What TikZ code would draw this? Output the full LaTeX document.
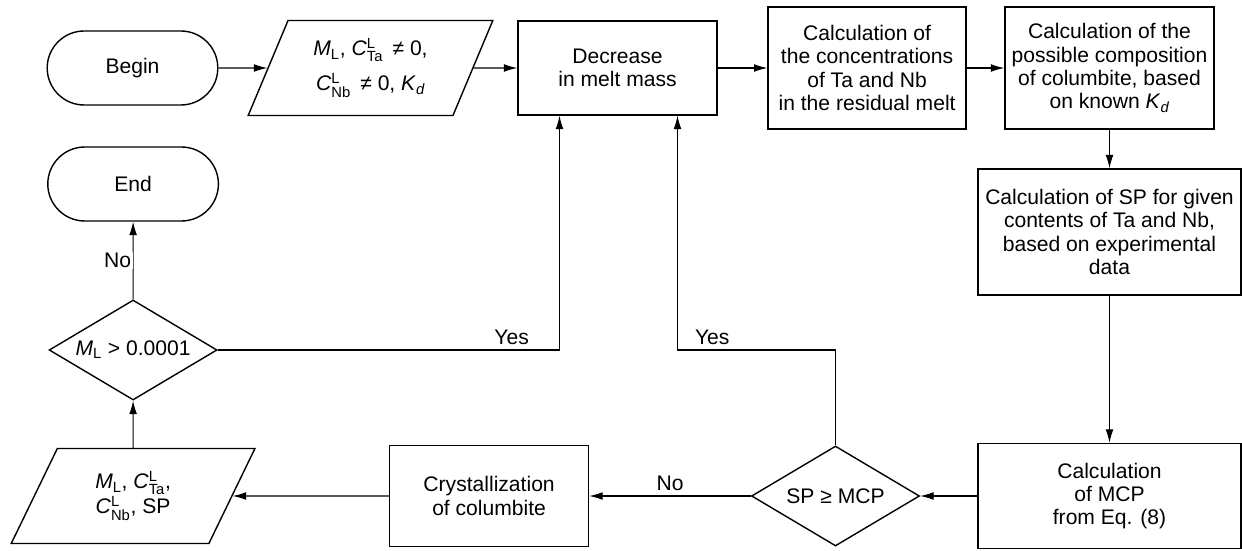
\documentclass[tikz,border=0pt]{standalone}
\usepackage{fontspec}
\usepackage{amsmath}
\setmainfont{Liberation Sans}
\usetikzlibrary{shapes,arrows.meta,positioning}

\newcommand{\conc}[1]{\textit{C}$^{\text{L}}_{\text{#1}}$}
\newcommand{\mliq}{\textit{M}$_{\text{L}}$}
\newcommand{\kd}{\textit{K}$_{\textit{d}}$}

\begin{document}
\begin{tikzpicture}[
				node distance = 6cm,
				auto,
				every node/.style={
					font=\fontsize{15}{16.6}\selectfont
					},
				terminal/.style={
					rounded rectangle,
					draw,
					line width=1pt,
					minimum width=4.5cm,
					minimum height=1.85cm
					},
				data/.style={
					trapezium,
					trapezium left angle=65,
					trapezium right angle=115,
					trapezium stretches=true,
					draw,
					line width=1pt,
					align=center,
					inner sep=0pt,
					minimum width=6.125cm,
					minimum height=2.375cm
					},
				decision/.style={
					diamond,
					draw,
					line width=1pt,
					aspect=1.68,
					inner sep=0pt,
					minimum width=4.2cm,
					minimum height=2.5cm
					},
				block/.style={
					rectangle,
					draw,
					line width=1pt,
					align=center,
					inner sep=2pt
					},
				line/.style={
					draw,
					line width=0.75pt,
					-{Latex[length=9.5pt,width=5.5pt]}
					}]
			    \useasboundingbox (0,0) rectangle (31.05,-13.775);
			    % Place nodes
			    \node [terminal] (begin) at (3.3125,-1.7) {Begin};
			    \node [data, right of=begin, node distance=5.95cm] (input) {\mliq, \conc{Ta}\, ≠ 0,\\[7pt]\conc{Nb}\, ≠ 0, \kd};
			    \node [block, right of=input, node distance=6.175cm, minimum width=4.975cm, minimum height=2.35cm] (decrease) {Decrease\\in melt mass};
			    \node [block, right of=decrease, node distance=6.24cm, minimum width=4.95cm, minimum height=3.05cm] (conc) {Calculation of\\the concentrations\\of Ta and Nb\\in the residual melt};
			    \node [block, right of=conc, node distance=6.06cm, minimum width=5.225cm, minimum height=3.05cm] (comp) {Calculation of the\\possible composition\\of columbite, based\\on known \kd};
			    \node [block, below of=comp, node distance=4.1cm, minimum width=6.575cm, minimum height=3.15cm] (spcalc) {Calculation of SP for given\\contents of Ta and Nb,\\based on experimental\\data};
			    \node [block, below of=spcalc, node distance=6.6cm, minimum width=6.575cm, minimum height=2.625cm] (mcp) {Calculation\\of MCP\\from Eq. (8)};
			    \node [decision, left of=mcp, node distance=6.85cm] (check) {SP ≥ MCP};
			    \node [block, left of=check, node distance=8.66cm, minimum width=4.975cm, minimum height=2.525cm] (crystal) {Crystallization\\of columbite};
			    \node [data, left of=crystal, node distance=8.9cm] (output) {\mliq, \conc{Ta},\\\conc{Nb}, SP};
			    \node [decision, above of=output, node distance=3.65cm] (limit) {\mliq{} > 0.0001};
			    \node [terminal, above of=limit, node distance=4.15cm] (end) {End};

			    \coordinate (yesleft) at ([xshift=-1.45cm]decrease.south);
			    \coordinate (yesright) at ([xshift=1.5cm]decrease.south);

			    % Draw edges
			    \path [line] (begin) -- (input);
			    \path [line] (input) -- (decrease);
			    \path [line] (decrease) -- (conc);
			    \path [line] (conc) -- (comp);
			    \path [line] (comp) -- (spcalc);
			    \path [line] (spcalc) -- (mcp);
			    \path [line] (mcp) -- (check);
			    \path [line] (check) -- node [above] {No} (crystal);
			    \path [line] (crystal) -- (output);
			    \path [line] (output) -- (limit);
			    \path [line] (limit) -- node [fill=white, inner sep=1pt] {No} (end);
			    \path [line] (limit.east) -| node [above, pos=0.43] {Yes} (yesleft);
			    \path [line] (check.north) |- node [above, pos=0.89] {Yes} (yesright |- limit.east) -- (yesright);
			\end{tikzpicture}
\end{document}
